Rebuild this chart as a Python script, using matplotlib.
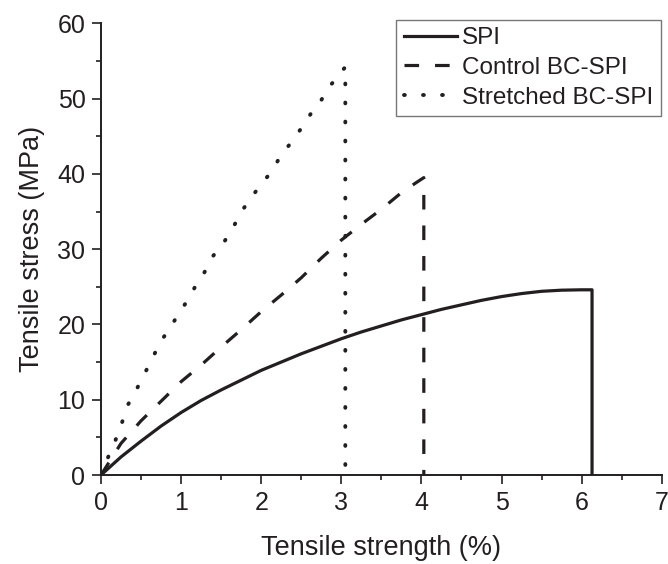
import matplotlib
matplotlib.use("Agg")
import matplotlib.pyplot as plt

plt.rcParams['font.family'] = ['Liberation Sans', 'DejaVu Sans']
plt.rcParams['lines.scale_dashes'] = False

# Data
spi_x = [0, 0.25, 0.5, 0.75, 1.0, 1.25, 1.5, 1.75, 2.0, 2.25, 2.5, 2.75, 3.0, 3.25,
         3.5, 3.75, 4.0, 4.25, 4.5, 4.75, 5.0, 5.25, 5.5, 5.75, 6.0, 6.13, 6.13]
spi_y = [0, 2.4, 4.5, 6.5, 8.3, 9.9, 11.3, 12.6, 13.9, 15.0, 16.1, 17.1, 18.1, 19.0,
         19.8, 20.6, 21.3, 22.0, 22.6, 23.2, 23.7, 24.1, 24.4, 24.55, 24.6, 24.6, 0]

ctrl_x = [0, 0.25, 0.5, 0.75, 1.0, 1.25, 1.5, 1.75, 2.0, 2.25, 2.5, 2.75, 3.0, 3.25,
          3.5, 3.75, 3.93, 4.03, 4.03]
ctrl_y = [0, 4.2, 7.2, 9.8, 12.4, 14.6, 17.0, 19.3, 21.7, 23.9, 26.2, 28.8, 31.2, 33.3,
          35.3, 37.5, 38.8, 39.5, 0]

str_x = [0, 0.09, 0.18, 0.26, 0.34, 0.45, 0.53, 0.63, 0.73, 0.84, 0.97, 1.08, 1.18, 1.29,
         1.40, 1.54, 1.66, 1.76, 1.88, 2.01, 2.14, 2.24, 2.37, 2.49, 2.62, 2.75, 2.86, 2.93,
         3.05, 3.05]
str_y = [0, 2.4, 4.6, 6.9, 9.4, 11.5, 13.2, 15.2, 17.5, 19.2, 21.4, 23.2, 25.1, 26.9,
         29.1, 31.0, 33.1, 35.1, 36.9, 38.8, 40.4, 42.4, 44.1, 45.9, 48.0, 49.8, 51.7, 52.6,
         54.2, 0]

labels = ["SPI", "Control BC-SPI", "Stretched BC-SPI"]
xticks = [0, 1, 2, 3, 4, 5, 6, 7]
yticks = [0, 10, 20, 30, 40, 50, 60]

ink = '#231f20'

fig = plt.figure(figsize=(6.68, 5.64), dpi=100)
ax = fig.add_axes([0.1512, 0.1578, 0.8394, 0.8009])

ax.plot(spi_x, spi_y, color=ink, lw=2.3, linestyle='-', solid_joinstyle='round',
        label=labels[0])
ax.plot(ctrl_x, ctrl_y, color=ink, lw=2.3, linestyle=(0, (10.5, 11.5)),
        dash_capstyle='butt', label=labels[1])
ax.plot(str_x, str_y, color=ink, lw=2.8, linestyle=(0, (0.6, 13.1)),
        dash_capstyle='round', label=labels[2])

ax.set_xlim(0, 7)
ax.set_ylim(0, 60)
ax.set_xticks(xticks)
ax.set_yticks(yticks)
ax.set_xticks([0.5 + i for i in range(7)], minor=True)
ax.set_yticks([5 + 10 * i for i in range(6)], minor=True)

for s in ['top', 'right']:
    ax.spines[s].set_visible(False)
for s in ['left', 'bottom']:
    ax.spines[s].set_linewidth(1.4)
    ax.spines[s].set_color(ink)

ax.tick_params(which='major', direction='out', length=6.7, width=1.2, colors=ink,
               labelsize=18, pad=4.5)
ax.tick_params(which='minor', direction='out', length=3.8, width=1.2, colors=ink)

ax.set_xlabel("Tensile strength (%)", fontsize=19.5, color=ink)
ax.set_ylabel("Tensile stress (MPa)", fontsize=19.5, color=ink, labelpad=9)
ax.xaxis.set_label_coords(0.5, -0.133)

leg = ax.legend(loc='upper right', bbox_to_anchor=(0.998, 1.007), borderaxespad=0,
                fontsize=17.5, frameon=True, fancybox=False, handlelength=2.2,
                handletextpad=0.2, borderpad=0.3, labelspacing=0.31)
leg.get_frame().set_edgecolor('#555555')
leg.get_frame().set_linewidth(1.0)
for t in leg.get_texts():
    t.set_color(ink)

fig.savefig("out.png", dpi=100)
